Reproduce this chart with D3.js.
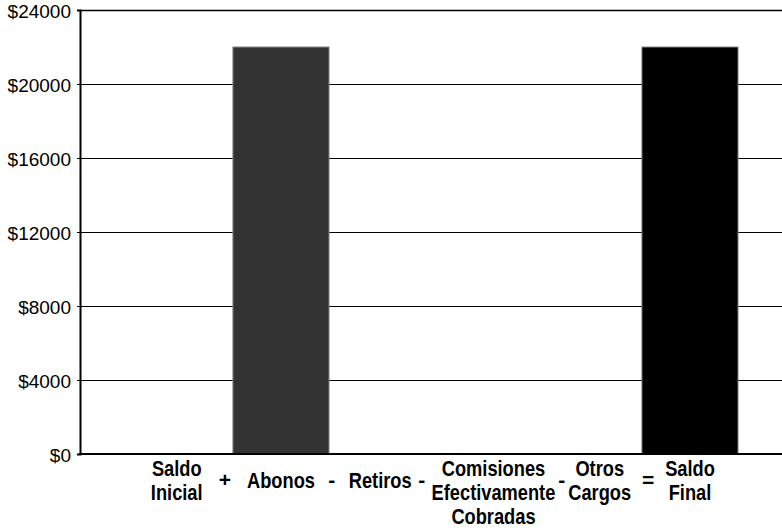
<!DOCTYPE html>
<html>
<head>
<meta charset="utf-8">
<script src="https://cdn.jsdelivr.net/npm/d3@7"></script>
<style>
  body { margin: 0; background: #fff; }
  text { font-family: "Liberation Sans", Arial, sans-serif; }
</style>
</head>
<body>
<script>
// data
var categories = ["Saldo Inicial", "Abonos", "Retiros", "Comisiones Efectivamente Cobradas", "Otros Cargos", "Saldo Final"];
var labelLines = [["Saldo", "Inicial"], ["Abonos"], ["Retiros"], ["Comisiones", "Efectivamente", "Cobradas"], ["Otros", "Cargos"], ["Saldo", "Final"]];
var values = [0, 22000, 0, 0, 0, 22000];
var barColors = ["#333333", "#333333", "#333333", "#333333", "#333333", "#000000"];
var operators = ["+", "-", "-", "-", "="];
var yTicks = [0, 4000, 8000, 12000, 16000, 20000, 24000];

var width = 782, height = 531;
var margins = { top: 10, bottom: 77, left: 80, right: 0 };

var svg = d3.select("body").append("svg")
  .attr("width", width)
  .attr("height", height);

var yScale = d3.scaleLinear()
  .domain([0, 24000])
  .range([height - margins.bottom, margins.top]);

var xScale = d3.scaleBand()
  .domain(categories)
  .range([127.6, 741.1])
  .paddingInner(0.06)
  .paddingOuter(0.03);

// grid lines
svg.append("g")
  .selectAll("line")
  .data(yTicks)
  .enter()
  .append("line")
  .attr("x1", margins.left)
  .attr("x2", width)
  .attr("y1", function(d){ return Math.round(yScale(d)) + 0.5; })
  .attr("y2", function(d){ return Math.round(yScale(d)) + 0.5; })
  .attr("stroke", "#000")
  .attr("stroke-width", function(d){ return d == 24000 ? 1.5 : 1; });

// bars
svg.append("g")
  .selectAll("rect")
  .data(values)
  .enter()
  .append("rect")
  .attr("x", function(d, i){ return xScale(categories[i]); })
  .attr("y", function(d){ return yScale(d); })
  .attr("width", xScale.bandwidth())
  .attr("height", function(d){ return yScale(0) - yScale(d); })
  .attr("fill", function(d, i){ return barColors[i]; })
  .attr("stroke", "#888")
  .attr("stroke-width", 1)
  .style("display", function(d){ return d > 0 ? null : "none"; });

// y axis
var yAxis = d3.axisLeft(yScale)
  .tickValues(yTicks)
  .tickSize(3)
  .tickFormat(function(d){ return "$" + d; });

var yG = svg.append("g")
  .attr("transform", "translate(" + margins.left + ",0)")
  .call(yAxis);
yG.select(".domain").attr("stroke-width", 2).attr("stroke", "#000");
yG.selectAll(".tick text")
  .attr("x", -9)
  .attr("dy", "0.4em")
  .style("font-size", "19px")
  .style("font-family", "'Liberation Sans', Arial, sans-serif")
  .attr("fill", "#000");

// bottom axis line
svg.append("line")
  .attr("x1", margins.left - 1)
  .attr("x2", width)
  .attr("y1", yScale(0))
  .attr("y2", yScale(0))
  .attr("stroke", "#000")
  .attr("stroke-width", 2);

// category labels (bold, condensed); small nudges so the long ones
// leave room for the operators like in the original
var lineH = 24;
var sx = 0.83;
var labelNudge = [-2, 0, -3, 8, 12, 0];
var labelG = svg.append("g");
var labelNodes = [];
categories.forEach(function(c, i){
  var cx = xScale(c) + xScale.bandwidth() / 2 + labelNudge[i];
  var y0 = labelLines[i].length == 1 ? 476 + lineH / 2 : 476;
  var g = labelG.append("g")
    .attr("transform", "translate(" + cx + "," + y0 + ") scale(" + sx + ",1)");
  var t = g.append("text")
    .attr("text-anchor", "middle")
    .style("font-size", "22px")
    .style("font-weight", "bold")
    .attr("fill", "#000");
  labelLines[i].forEach(function(l, j){
    t.append("tspan").attr("x", 0).attr("y", j * lineH).text(l);
  });
  labelNodes.push({ cx: cx, w: t.node().getBBox().width * sx });
});

// operators between the labels, in the middle of each gap
operators.forEach(function(op, i){
  var left = labelNodes[i], right = labelNodes[i + 1];
  var gapL = left.cx + left.w / 2;
  var gapR = right.cx - right.w / 2;
  labelG.append("text")
    .attr("x", (gapL + gapR) / 2)
    .attr("y", 487)
    .attr("text-anchor", "middle")
    .style("font-size", "21px")
    .style("font-weight", "bold")
    .attr("fill", "#000")
    .text(op);
});
</script>
</body>
</html>
